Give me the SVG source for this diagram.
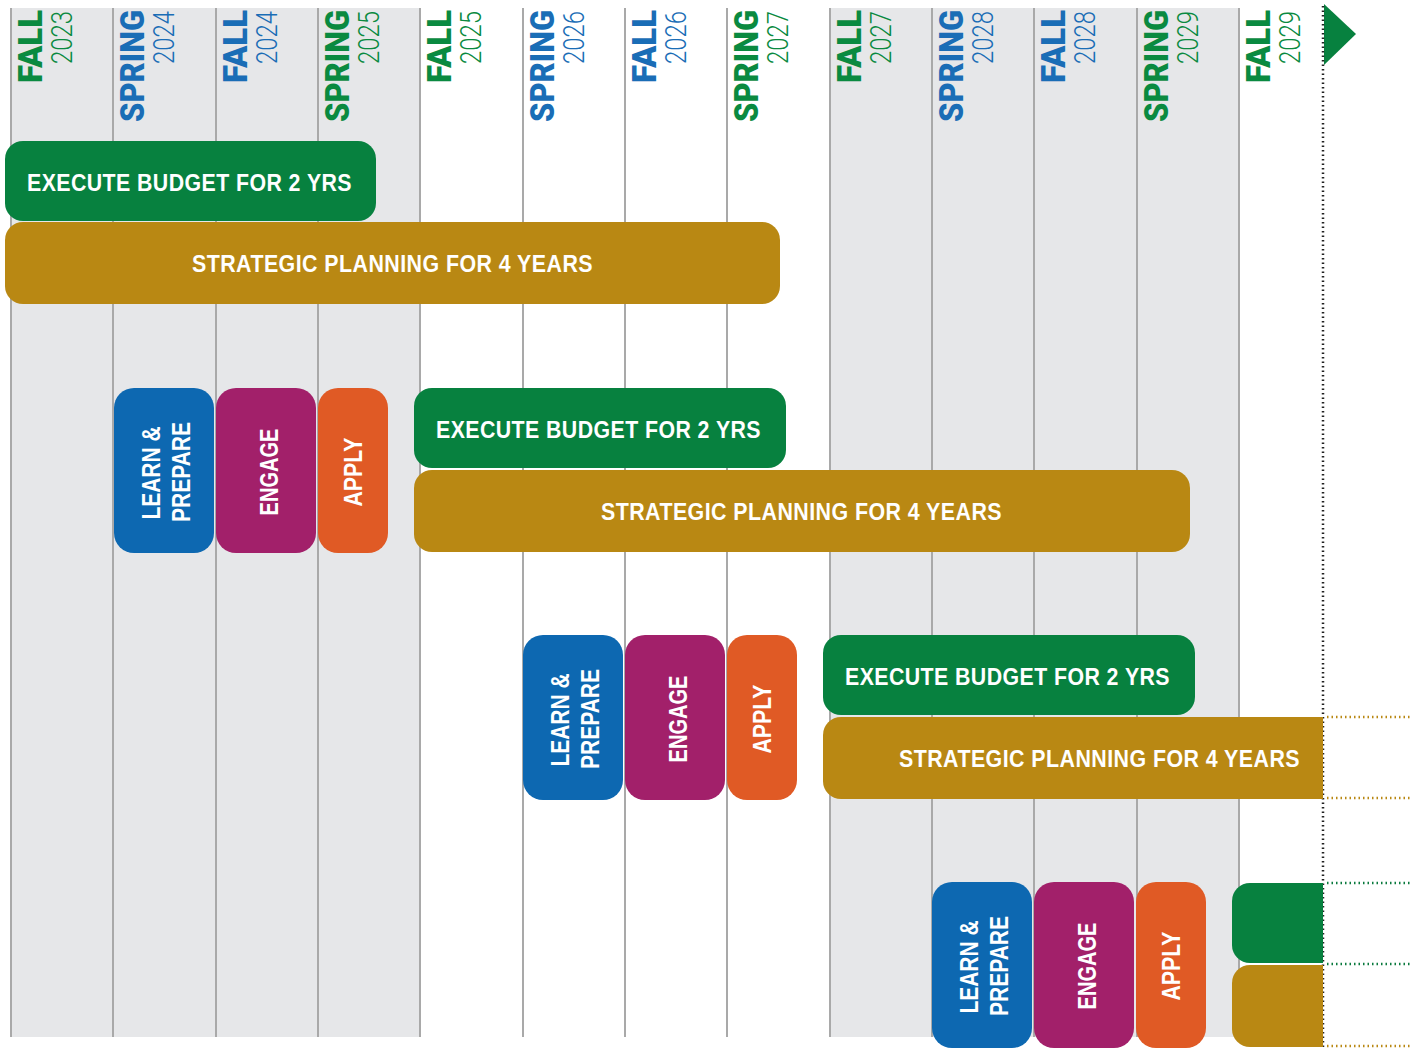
<svg xmlns="http://www.w3.org/2000/svg" width="1412" height="1049" viewBox="0 0 1412 1049">
<style>
.bg{fill:#e6e7e9}
.vl{stroke:#a9a9a9;stroke-width:2}
.lb{font-family:Roboto,"Liberation Sans",Arial,sans-serif;font-weight:900;font-size:33px}
.yr{font-family:Roboto,"Liberation Sans",Arial,sans-serif;font-weight:300;font-size:30px}
.g{fill:#0a8a40}
.b{fill:#1a6db6}
.bar{font-family:"Liberation Sans",Arial,sans-serif;font-weight:bold;font-size:24px;fill:#fff;letter-spacing:0.5px}
.vt{font-family:"Liberation Sans",Arial,sans-serif;font-weight:bold;font-size:25px;fill:#fff;text-anchor:middle}
.cg{fill:#07813f}
.cy{fill:#b98813}
.cb{fill:#0d68b1}
.cp{fill:#a2206a}
.co{fill:#e05a25}
.dot{stroke-width:2.5;stroke-dasharray:1.5 3;fill:none}
</style>
<defs>
<clipPath id="clipR"><rect x="0" y="0" width="1323" height="1049"/></clipPath>
</defs>
<rect width="1412" height="1049" fill="#fff"/>
<g id="background">
<rect class="bg" x="11" y="8" width="409" height="1029"/>
<rect class="bg" x="830" y="8" width="409" height="1029"/>
<line class="vl" x1="11" y1="8" x2="11" y2="1037"/>
<line class="vl" x1="113" y1="8" x2="113" y2="1037"/>
<line class="vl" x1="216" y1="8" x2="216" y2="1037"/>
<line class="vl" x1="318" y1="8" x2="318" y2="1037"/>
<line class="vl" x1="420" y1="8" x2="420" y2="1037"/>
<line class="vl" x1="523" y1="8" x2="523" y2="1037"/>
<line class="vl" x1="625" y1="8" x2="625" y2="1037"/>
<line class="vl" x1="727" y1="8" x2="727" y2="1037"/>
<line class="vl" x1="830" y1="8" x2="830" y2="1037"/>
<line class="vl" x1="932" y1="8" x2="932" y2="1037"/>
<line class="vl" x1="1034" y1="8" x2="1034" y2="1037"/>
<line class="vl" x1="1137" y1="8" x2="1137" y2="1037"/>
<line class="vl" x1="1239" y1="8" x2="1239" y2="1037"/>
</g>
<g id="headers" text-anchor="end">
<text class="lb g" transform="translate(42,10) rotate(-90)" textLength="73" lengthAdjust="spacingAndGlyphs">FALL</text>
<text class="yr g" transform="translate(72,11) rotate(-90)" textLength="53" lengthAdjust="spacingAndGlyphs">2023</text>
<text class="lb b" transform="translate(144,10) rotate(-90)" textLength="112" lengthAdjust="spacingAndGlyphs">SPRING</text>
<text class="yr b" transform="translate(174,11) rotate(-90)" textLength="53" lengthAdjust="spacingAndGlyphs">2024</text>
<text class="lb b" transform="translate(247,10) rotate(-90)" textLength="73" lengthAdjust="spacingAndGlyphs">FALL</text>
<text class="yr b" transform="translate(277,11) rotate(-90)" textLength="53" lengthAdjust="spacingAndGlyphs">2024</text>
<text class="lb g" transform="translate(349,10) rotate(-90)" textLength="112" lengthAdjust="spacingAndGlyphs">SPRING</text>
<text class="yr g" transform="translate(379,11) rotate(-90)" textLength="53" lengthAdjust="spacingAndGlyphs">2025</text>
<text class="lb g" transform="translate(451,10) rotate(-90)" textLength="73" lengthAdjust="spacingAndGlyphs">FALL</text>
<text class="yr g" transform="translate(481,11) rotate(-90)" textLength="53" lengthAdjust="spacingAndGlyphs">2025</text>
<text class="lb b" transform="translate(554,10) rotate(-90)" textLength="112" lengthAdjust="spacingAndGlyphs">SPRING</text>
<text class="yr b" transform="translate(584,11) rotate(-90)" textLength="53" lengthAdjust="spacingAndGlyphs">2026</text>
<text class="lb b" transform="translate(656,10) rotate(-90)" textLength="73" lengthAdjust="spacingAndGlyphs">FALL</text>
<text class="yr b" transform="translate(686,11) rotate(-90)" textLength="53" lengthAdjust="spacingAndGlyphs">2026</text>
<text class="lb g" transform="translate(758,10) rotate(-90)" textLength="112" lengthAdjust="spacingAndGlyphs">SPRING</text>
<text class="yr g" transform="translate(788,11) rotate(-90)" textLength="53" lengthAdjust="spacingAndGlyphs">2027</text>
<text class="lb g" transform="translate(861,10) rotate(-90)" textLength="73" lengthAdjust="spacingAndGlyphs">FALL</text>
<text class="yr g" transform="translate(891,11) rotate(-90)" textLength="53" lengthAdjust="spacingAndGlyphs">2027</text>
<text class="lb b" transform="translate(963,10) rotate(-90)" textLength="112" lengthAdjust="spacingAndGlyphs">SPRING</text>
<text class="yr b" transform="translate(993,11) rotate(-90)" textLength="53" lengthAdjust="spacingAndGlyphs">2028</text>
<text class="lb b" transform="translate(1065,10) rotate(-90)" textLength="73" lengthAdjust="spacingAndGlyphs">FALL</text>
<text class="yr b" transform="translate(1095,11) rotate(-90)" textLength="53" lengthAdjust="spacingAndGlyphs">2028</text>
<text class="lb g" transform="translate(1168,10) rotate(-90)" textLength="112" lengthAdjust="spacingAndGlyphs">SPRING</text>
<text class="yr g" transform="translate(1198,11) rotate(-90)" textLength="53" lengthAdjust="spacingAndGlyphs">2029</text>
<text class="lb g" transform="translate(1270,10) rotate(-90)" textLength="73" lengthAdjust="spacingAndGlyphs">FALL</text>
<text class="yr g" transform="translate(1300,11) rotate(-90)" textLength="53" lengthAdjust="spacingAndGlyphs">2029</text>
</g>
<g id="connectors">
<polygon class="cg" points="1324,4 1356,34 1324,65"/>
<line class="dot" stroke="#222" x1="1323" y1="6" x2="1323" y2="1049"/>
<line class="dot" stroke="#b98813" x1="1327" y1="717" x2="1410" y2="717"/>
<line class="dot" stroke="#b98813" x1="1327" y1="798" x2="1410" y2="798"/>
<line class="dot" stroke="#0a7a3e" x1="1327" y1="883" x2="1410" y2="883"/>
<line class="dot" stroke="#0a7a3e" x1="1327" y1="964" x2="1410" y2="964"/>
<line class="dot" stroke="#b98813" x1="1327" y1="1046" x2="1410" y2="1046"/>
</g>
<g id="budget1"><rect class="cg" x="5" y="141" width="371" height="80" rx="18"/><text class="bar" x="27" y="191" textLength="325" lengthAdjust="spacingAndGlyphs">EXECUTE BUDGET FOR 2 YRS</text></g>
<g id="plan1"><rect class="cy" x="5" y="222" width="775" height="82" rx="18"/><text class="bar" x="192" y="272" textLength="401" lengthAdjust="spacingAndGlyphs">STRATEGIC PLANNING FOR 4 YEARS</text></g>

<g id="learn2"><rect class="cb" x="114" y="388" width="100" height="165" rx="20"/><text class="vt" transform="translate(160,473) rotate(-90)" textLength="93" lengthAdjust="spacingAndGlyphs">LEARN &amp;</text><text class="vt" transform="translate(190,472) rotate(-90)" textLength="100" lengthAdjust="spacingAndGlyphs">PREPARE</text></g>
<g id="engage2"><rect class="cp" x="216" y="388" width="100" height="165" rx="20"/><text class="vt" transform="translate(278,472) rotate(-90)" textLength="87" lengthAdjust="spacingAndGlyphs">ENGAGE</text></g>
<g id="apply2"><rect class="co" x="318" y="388" width="70" height="165" rx="20"/><text class="vt" transform="translate(362,472) rotate(-90)" textLength="69" lengthAdjust="spacingAndGlyphs">APPLY</text></g>
<g id="budget2"><rect class="cg" x="414" y="388" width="372" height="80" rx="18"/><text class="bar" x="436" y="438" textLength="325" lengthAdjust="spacingAndGlyphs">EXECUTE BUDGET FOR 2 YRS</text></g>
<g id="plan2"><rect class="cy" x="414" y="470" width="776" height="82" rx="18"/><text class="bar" x="601" y="520" textLength="401" lengthAdjust="spacingAndGlyphs">STRATEGIC PLANNING FOR 4 YEARS</text></g>

<g id="learn3"><rect class="cb" x="523" y="635" width="100" height="165" rx="20"/><text class="vt" transform="translate(569,720) rotate(-90)" textLength="93" lengthAdjust="spacingAndGlyphs">LEARN &amp;</text><text class="vt" transform="translate(599,719) rotate(-90)" textLength="100" lengthAdjust="spacingAndGlyphs">PREPARE</text></g>
<g id="engage3"><rect class="cp" x="625" y="635" width="100" height="165" rx="20"/><text class="vt" transform="translate(687,719) rotate(-90)" textLength="87" lengthAdjust="spacingAndGlyphs">ENGAGE</text></g>
<g id="apply3"><rect class="co" x="727" y="635" width="70" height="165" rx="20"/><text class="vt" transform="translate(771,719) rotate(-90)" textLength="69" lengthAdjust="spacingAndGlyphs">APPLY</text></g>
<g id="budget3"><rect class="cg" x="823" y="635" width="372" height="80" rx="18"/><text class="bar" x="845" y="685" textLength="325" lengthAdjust="spacingAndGlyphs">EXECUTE BUDGET FOR 2 YRS</text></g>
<g id="plan3" clip-path="url(#clipR)"><rect class="cy" x="823" y="717" width="600" height="82" rx="18"/><text class="bar" x="899" y="767" textLength="401" lengthAdjust="spacingAndGlyphs">STRATEGIC PLANNING FOR 4 YEARS</text></g>

<g id="learn4"><rect class="cb" x="932" y="882" width="100" height="166" rx="20"/><text class="vt" transform="translate(978,967) rotate(-90)" textLength="93" lengthAdjust="spacingAndGlyphs">LEARN &amp;</text><text class="vt" transform="translate(1008,966) rotate(-90)" textLength="100" lengthAdjust="spacingAndGlyphs">PREPARE</text></g>
<g id="engage4"><rect class="cp" x="1034" y="882" width="100" height="166" rx="20"/><text class="vt" transform="translate(1096,966) rotate(-90)" textLength="87" lengthAdjust="spacingAndGlyphs">ENGAGE</text></g>
<g id="apply4"><rect class="co" x="1136" y="882" width="70" height="166" rx="20"/><text class="vt" transform="translate(1180,966) rotate(-90)" textLength="69" lengthAdjust="spacingAndGlyphs">APPLY</text></g>
<g id="budget4" clip-path="url(#clipR)"><rect class="cg" x="1232" y="883" width="200" height="80" rx="18"/></g>
<g id="plan4" clip-path="url(#clipR)"><rect class="cy" x="1232" y="965" width="200" height="82" rx="18"/></g>
</svg>
